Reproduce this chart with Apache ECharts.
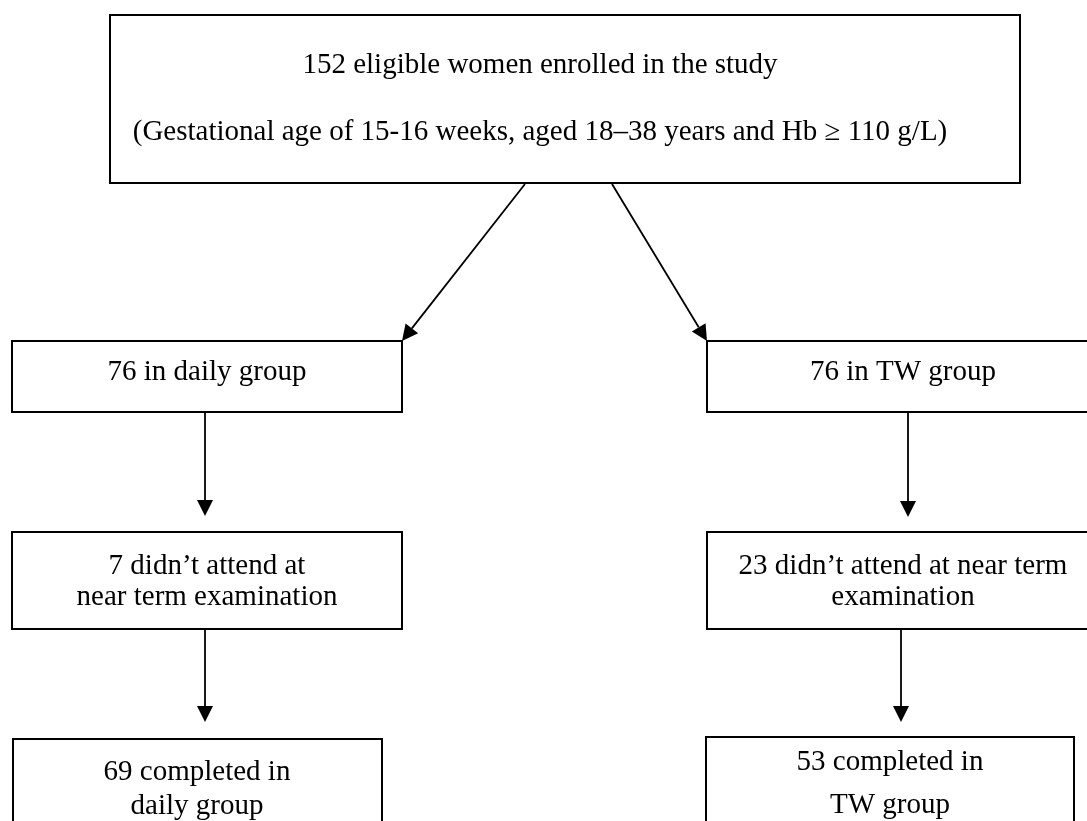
<!DOCTYPE html>
<html>
<head>
<meta charset="utf-8">
<script src="https://cdn.jsdelivr.net/npm/echarts@6/dist/echarts.min.js"></script>
<style>
html,body{margin:0;padding:0;background:#fff;}
#chart{width:1087px;height:821px;}
</style>
</head>
<body>
<div id="chart"></div>
<script>
// ---- content ----
const boxLines = [
  ["152 eligible women enrolled in the study", "(Gestational age of 15-16 weeks, aged 18\u201338 years and Hb \u2265 110 g/L)"],
  ["76 in daily group"],
  ["76 in TW group"],
  ["7 didn\u2019t attend at", "near term examination"],
  ["23 didn\u2019t attend at near term", "examination"],
  ["69 completed in", "daily group"],
  ["53 completed in", "TW group"]
];
// ---- layout (canvas-unit coordinates on hidden axes) ----
const boxRects = [
  [110, 15, 1020, 183],
  [12, 341, 402, 412],
  [707, 341, 1099, 412],
  [12, 532, 402, 629],
  [707, 532, 1099, 629],
  [13, 739, 382, 845],
  [706, 737, 1074, 845]
];
// [centerX, first baseline, line gap]
const textAnchors = [
  [540, 71, 67],
  [207, 378, 0],
  [903, 378, 0],
  [207, 572, 31],
  [903, 572, 31],
  [197, 778, 34],
  [890, 768, 43]
];
const arrows = [
  [525, 184, 402, 341],
  [612, 184, 707, 341],
  [205, 412, 205, 516],
  [908, 412, 908, 517],
  [205, 629, 205, 722],
  [901, 630, 901, 722]
];

const FONT = '"Liberation Serif", "Times New Roman", serif';
const chart = echarts.init(document.getElementById('chart'));

function renderBox(params, api) {
  const i = params.dataIndex;
  const p0 = api.coord([api.value(0), api.value(1)]);
  const p1 = api.coord([api.value(2), api.value(3)]);
  const children = [{
    type: 'rect',
    shape: { x: Math.round(p0[0]), y: Math.round(p0[1]), width: Math.round(p1[0] - p0[0]), height: Math.round(p1[1] - p0[1]) },
    style: { fill: '#fff', stroke: '#000', lineWidth: 2 }
  }];
  const a = textAnchors[i];
  boxLines[i].forEach((t, k) => {
    const c = api.coord([a[0], a[1] + k * a[2]]);
    children.push({
      type: 'text',
      style: {
        text: t, x: c[0], y: c[1] - 6,
        fill: '#000', fontSize: 29, fontFamily: FONT,
        align: 'center', verticalAlign: 'middle'
      }
    });
  });
  return { type: 'group', children };
}

function renderArrow(params, api) {
  const s = api.coord([api.value(0), api.value(1)]);
  const e = api.coord([api.value(2), api.value(3)]);
  const dx = e[0] - s[0], dy = e[1] - s[1];
  const len = Math.sqrt(dx * dx + dy * dy);
  const ux = dx / len, uy = dy / len;
  const hl = 16, hw = 8;
  const bx = e[0] - ux * hl, by = e[1] - uy * hl;
  return {
    type: 'group',
    children: [
      { type: 'line', shape: { x1: s[0], y1: s[1], x2: bx, y2: by },
        style: { stroke: '#000', lineWidth: 1.8 } },
      { type: 'polygon',
        shape: { points: [[e[0], e[1]], [bx - uy * hw, by + ux * hw], [bx + uy * hw, by - ux * hw]] },
        style: { fill: '#000' } }
    ]
  };
}

chart.setOption({
  backgroundColor: '#fff',
  animation: false,
  grid: { left: 0, right: 0, top: 0, bottom: 0 },
  xAxis: { type: 'value', min: 0, max: 1087, show: false },
  yAxis: { type: 'value', min: 0, max: 821, inverse: true, show: false },
  series: [
    { type: 'custom', renderItem: renderBox, data: boxRects, clip: false, silent: true },
    { type: 'custom', renderItem: renderArrow, data: arrows, clip: false, silent: true }
  ]
});
</script>
</body>
</html>
